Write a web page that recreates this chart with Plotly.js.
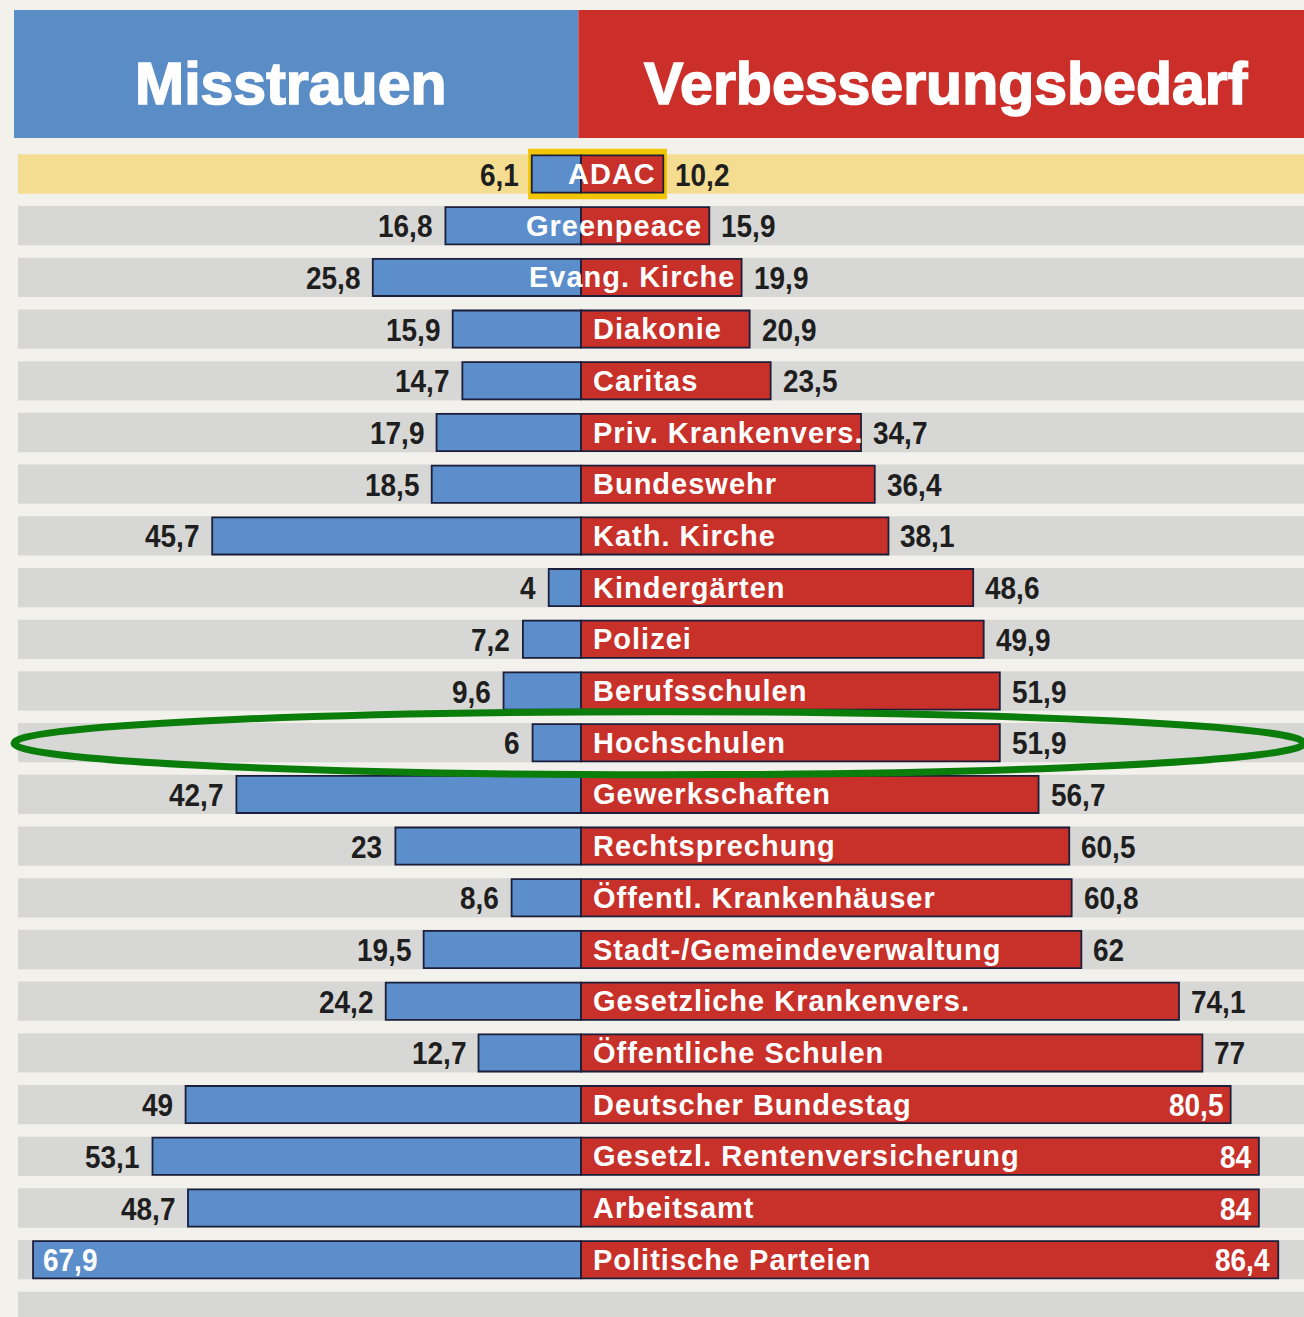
<!DOCTYPE html>
<html>
<head>
<meta charset="utf-8">
<script src="https://cdn.plot.ly/plotly-3.0.1.min.js"></script>
<style>
  html, body { margin: 0; padding: 0; background: #f2f1ec; }
  #chart { width: 1304px; height: 1317px; }
  /* category labels (29px) get a little letter spacing like the print original */
  text.annotation-text[style*="29px"] { letter-spacing: 1px; }
  /* value labels (28px) are tall condensed figures in the original */
  text.annotation-text[style*="28px"] { transform-box: fill-box; transform-origin: center; transform: scale(1, 1.15); }
  /* header words (59px) are heavier in the original */
  text.annotation-text[style*="59px"] { stroke: #ffffff; stroke-width: 1.6px; }
</style>
</head>
<body>
<div id="chart"></div>
<script>
// ---- data ----
const categories = ["ADAC", "Greenpeace", "Evang. Kirche", "Diakonie", "Caritas",
  "Priv. Krankenvers.", "Bundeswehr", "Kath. Kirche", "Kindergärten", "Polizei",
  "Berufsschulen", "Hochschulen", "Gewerkschaften", "Rechtsprechung",
  "Öffentl. Krankenhäuser", "Stadt-/Gemeindeverwaltung", "Gesetzliche Krankenvers.",
  "Öffentliche Schulen", "Deutscher Bundestag", "Gesetzl. Rentenversicherung",
  "Arbeitsamt", "Politische Parteien"];
const misstrauen = [6.1, 16.8, 25.8, 15.9, 14.7, 17.9, 18.5, 45.7, 4, 7.2, 9.6, 6,
  42.7, 23, 8.6, 19.5, 24.2, 12.7, 49, 53.1, 48.7, 67.9];
const verbesserungsbedarf = [10.2, 15.9, 19.9, 20.9, 23.5, 34.7, 36.4, 38.1, 48.6, 49.9,
  51.9, 51.9, 56.7, 60.5, 60.8, 62, 74.1, 77, 80.5, 84, 84, 86.4];
const headerLeft = "Misstrauen";
const headerRight = "Verbesserungsbedarf";
const highlighted = "ADAC";
const circled = "Hochschulen";

// ---- layout constants ----
const W = 1304, H = 1317;
const PX_PER_UNIT = 8.07;
const CENTER_PX = 581;
const xMin = -CENTER_PX / PX_PER_UNIT;
const xMax = (W - CENTER_PX) / PX_PER_UNIT;
const ROW_PX = 51.7;
const FIRST_ROW_PX = 174;
const yTop = -FIRST_ROW_PX / ROW_PX;
const yBottom = yTop + H / ROW_PX;

const BLUE = "#5b8eca", RED = "#c8302a", OUTLINE = "#1c1f3a";
const HEAD_BLUE = "#5a8dc6", HEAD_RED = "#cc2e2a";
const STRIPE = "#d7d7d6", YELLOW_STRIPE = "#f4dd91", YELLOW_BOX = "#f1c400";
const LABEL_FONT = "Liberation Sans";
const NUM_FONT = "Liberation Sans";
const LABEL_SIZE = 29, NUM_SIZE = 28, HEAD_SIZE = 59;
const LABEL_SPACING = 1.0;

const fmt = v => String(v).replace(".", ",");
const rows = categories.map((_, i) => i);

const canvas = document.createElement("canvas");
const ctx = canvas.getContext("2d");
function textWidth(txt, family, size, spacing) {
  ctx.font = `bold ${size}px "${family}"`;
  return ctx.measureText(txt).width + (spacing || 0) * (txt.length - 1);
}

// ---- shapes ----
const shapes = [];
// header blocks
shapes.push({type: "rect", xref: "paper", yref: "paper", x0: 14 / W, x1: CENTER_PX / W - 0.002,
  y0: 1 - 138 / H, y1: 1 - 10 / H, fillcolor: HEAD_BLUE, line: {width: 0}, layer: "below"});
shapes.push({type: "rect", xref: "paper", yref: "paper", x0: CENTER_PX / W - 0.002, x1: 1,
  y0: 1 - 138 / H, y1: 1 - 10 / H, fillcolor: HEAD_RED, line: {width: 0}, layer: "below"});
// row stripes (one extra partial stripe at the bottom)
for (let i = 0; i <= categories.length; i++) {
  const hi = categories[i] === highlighted;
  shapes.push({type: "rect", xref: "paper", yref: "y", x0: 18 / W, x1: 1,
    y0: i - 0.38, y1: i + 0.38, fillcolor: hi ? YELLOW_STRIPE : STRIPE,
    line: {width: 0}, layer: "below"});
}
// yellow box around highlighted bar
const hIdx = categories.indexOf(highlighted);
shapes.push({type: "rect", xref: "x", yref: "y",
  x0: -misstrauen[hIdx] - 0.45, x1: verbesserungsbedarf[hIdx] + 0.45,
  y0: hIdx - 0.49, y1: hIdx + 0.49, fillcolor: YELLOW_BOX, line: {width: 0}, layer: "below"});
// green ellipse
const cIdx = categories.indexOf(circled);
shapes.push({type: "circle", xref: "paper", yref: "y", x0: 14 / W, x1: 1.0,
  y0: cIdx - 0.6, y1: cIdx + 0.62, line: {color: "#0b7d0b", width: 7}, layer: "above"});

// ---- annotations ----
const annotations = [];
annotations.push({xref: "paper", yref: "paper", x: 290 / W, y: 1 - 84 / H, text: headerLeft,
  showarrow: false, xanchor: "center", yanchor: "middle",
  font: {family: LABEL_FONT, size: HEAD_SIZE, color: "#ffffff", weight: 700}});
annotations.push({xref: "paper", yref: "paper", x: 946 / W, y: 1 - 84 / H, text: headerRight,
  showarrow: false, xanchor: "center", yanchor: "middle",
  font: {family: LABEL_FONT, size: HEAD_SIZE, color: "#ffffff", weight: 700}});

rows.forEach(i => {
  const m = misstrauen[i], v = verbesserungsbedarf[i];
  const redPx = v * PX_PER_UNIT;
  const lw = textWidth(categories[i], LABEL_FONT, LABEL_SIZE, LABEL_SPACING);
  const labelFont = {family: LABEL_FONT, size: LABEL_SIZE, color: "#ffffff", weight: 700};
  // category label inside the red bar (right-aligned when the red bar is too short)
  if (lw + 10 <= redPx + 8) {
    annotations.push({x: 0, y: i, xshift: 10, xanchor: "left", yanchor: "middle",
      text: categories[i], showarrow: false, font: labelFont});
  } else {
    annotations.push({x: v, y: i, xshift: -5, xanchor: "right", yanchor: "middle",
      text: categories[i], showarrow: false, font: labelFont});
  }
  // left value
  const mTxt = fmt(m), vTxt = fmt(v);
  const mw = textWidth(mTxt, NUM_FONT, NUM_SIZE);
  const leftEdge = CENTER_PX - m * PX_PER_UNIT;
  if (leftEdge - 12 - mw < 20) {
    annotations.push({x: -m, y: i, xshift: 8, xanchor: "left", yanchor: "middle",
      text: mTxt, showarrow: false,
      font: {family: NUM_FONT, size: NUM_SIZE, color: "#ffffff", weight: 700}});
  } else {
    annotations.push({x: -m, y: i, xshift: -11, xanchor: "right", yanchor: "middle",
      text: mTxt, showarrow: false,
      font: {family: NUM_FONT, size: NUM_SIZE, color: "#1e1e1e", weight: 700}});
  }
  // right value
  const vw = textWidth(vTxt, NUM_FONT, NUM_SIZE);
  const rightEdge = CENTER_PX + v * PX_PER_UNIT;
  if (rightEdge + 10 + vw > 1270) {
    annotations.push({x: v, y: i, xshift: -6, xanchor: "right", yanchor: "middle",
      text: vTxt, showarrow: false,
      font: {family: NUM_FONT, size: NUM_SIZE, color: "#ffffff", weight: 700}});
  } else {
    annotations.push({x: v, y: i, xshift: 10, xanchor: "left", yanchor: "middle",
      text: vTxt, showarrow: false,
      font: {family: NUM_FONT, size: NUM_SIZE, color: "#1e1e1e", weight: 700}});
  }
});

// ---- traces ----
const traces = [
  {type: "bar", orientation: "h", name: headerLeft, y: rows, x: misstrauen.map(v => -v),
   width: 0.72, marker: {color: BLUE, line: {color: OUTLINE, width: 1.8}}, hoverinfo: "skip"},
  {type: "bar", orientation: "h", name: headerRight, y: rows, x: verbesserungsbedarf,
   width: 0.72, marker: {color: RED, line: {color: OUTLINE, width: 1.8}}, hoverinfo: "skip"}
];

const layout = {
  width: W, height: H,
  margin: {l: 0, r: 0, t: 0, b: 0, pad: 0},
  paper_bgcolor: "#f2f1ec", plot_bgcolor: "rgba(0,0,0,0)",
  showlegend: false, barmode: "overlay",
  xaxis: {range: [xMin, xMax], visible: false, fixedrange: true},
  yaxis: {range: [yBottom, yTop], visible: false, fixedrange: true},
  shapes: shapes, annotations: annotations
};

Plotly.newPlot("chart", traces, layout, {displayModeBar: false, staticPlot: true});
</script>
</body>
</html>
